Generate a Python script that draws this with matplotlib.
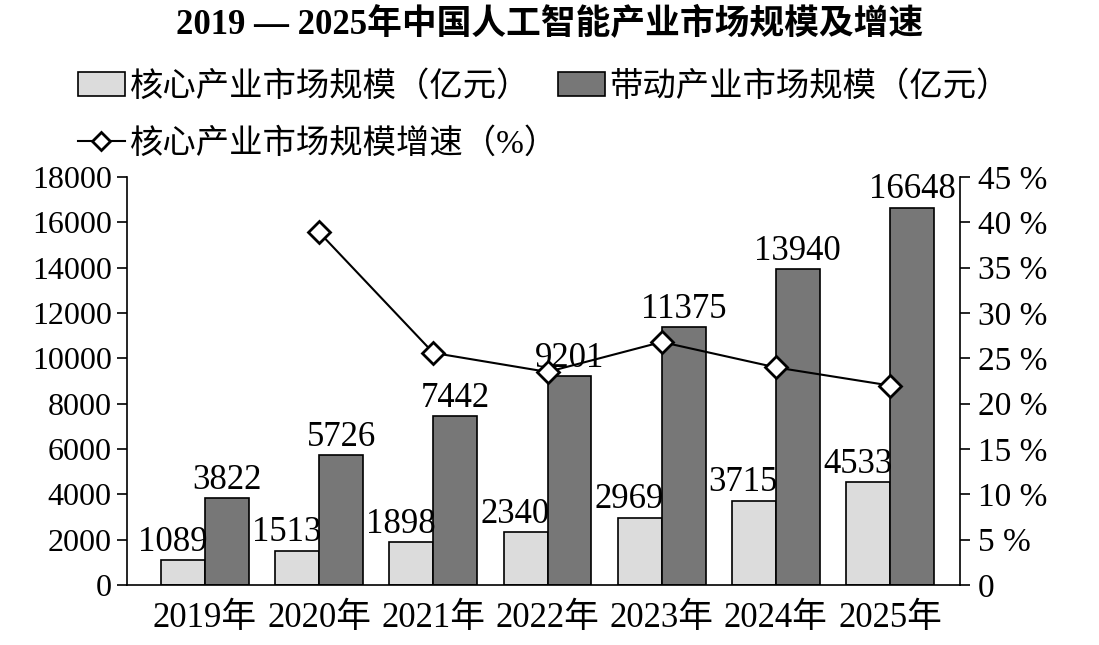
import matplotlib.pyplot as plt
from matplotlib.lines import Line2D
from matplotlib.patches import Patch
import numpy as np

plt.rcParams['font.family'] = ['Liberation Serif', 'Noto Sans CJK SC', 'DejaVu Sans']

years = ['2019年', '2020年', '2021年', '2022年', '2023年', '2024年', '2025年']
core = [1089, 1513, 1898, 2340, 2969, 3715, 4533]
driven = [3822, 5726, 7442, 9201, 11375, 13940, 16648]
growth = [None, 38.9, 25.6, 23.5, 26.8, 24.0, 22.0]

light = '#dcdcdc'
dark = '#777777'
fs = 23

fig = plt.figure(figsize=(10.99, 6.45), dpi=100)
ax = fig.add_axes([0.1156, 0.093, 0.7579, 0.6326])
x = np.arange(len(years))
w = 0.385

ax.bar(x - w / 2, core, w, color=light, edgecolor='black', linewidth=1.2)
ax.bar(x + w / 2, driven, w, color=dark, edgecolor='black', linewidth=1.2)
for i in range(len(years)):
    ax.text(x[i] + 0.02, core[i] + 60, str(core[i]), ha='right', va='bottom', fontsize=25)
    ax.text(x[i] + w / 2, driven[i] + 60, str(driven[i]), ha='center', va='bottom', fontsize=25)

ax.set_ylim(0, 18000)
ax.set_xlim(-0.683, 6.613)
ax.set_yticks(range(0, 18001, 2000))
ax.set_xticks(x)
ax.set_xticklabels(years, fontsize=25)
ax.tick_params(axis='y', labelsize=fs, length=7, width=1.2, direction='out', pad=4)
ax.tick_params(axis='x', length=0, pad=12)
ax.spines['top'].set_visible(False)
ax.spines['right'].set_visible(False)
ax.spines['left'].set_linewidth(1.2)
ax.spines['bottom'].set_linewidth(1.2)

ax2 = ax.twinx()
gx = [x[i] for i in range(len(years)) if growth[i] is not None]
gy = [g for g in growth if g is not None]
ax2.plot(gx, gy, color='black', linewidth=1.5, marker='D', markersize=11,
         markerfacecolor='white', markeredgecolor='black', markeredgewidth=2, zorder=5)
ax2.set_ylim(0, 45)
ax2.set_yticks(range(0, 46, 5))
ax2.set_yticklabels(['0'] + [f'{v} %' for v in range(5, 46, 5)])
ax2.tick_params(axis='y', labelsize=24, length=7, width=1.2, direction='out', pad=6)
ax2.spines['top'].set_visible(False)
ax2.spines['left'].set_visible(False)
ax2.spines['bottom'].set_visible(False)
ax2.spines['right'].set_linewidth(1.2)

fig.text(0.5, 0.962, '2019 — 2025年中国人工智能产业市场规模及增速', ha='center', va='center',
         fontsize=25, fontweight='bold')

handles = [
    Patch(facecolor=light, edgecolor='black', linewidth=1.2),
    Line2D([0], [0], color='black', linewidth=1.5, marker='D', markersize=9,
           markerfacecolor='white', markeredgecolor='black', markeredgewidth=2),
    Patch(facecolor=dark, edgecolor='black', linewidth=1.2),
]
labels = ['核心产业市场规模（亿元）', '核心产业市场规模增速（%）', '带动产业市场规模（亿元）']
fig.legend(handles, labels, loc='upper left', bbox_to_anchor=(0.071, 0.89), ncol=2,
           frameon=False, fontsize=24, handlelength=1.4, handleheight=0.75,
           handletextpad=0.15, columnspacing=0.0, labelspacing=0.75,
           borderpad=0, borderaxespad=0)

fig.savefig('out.png', dpi=100)
